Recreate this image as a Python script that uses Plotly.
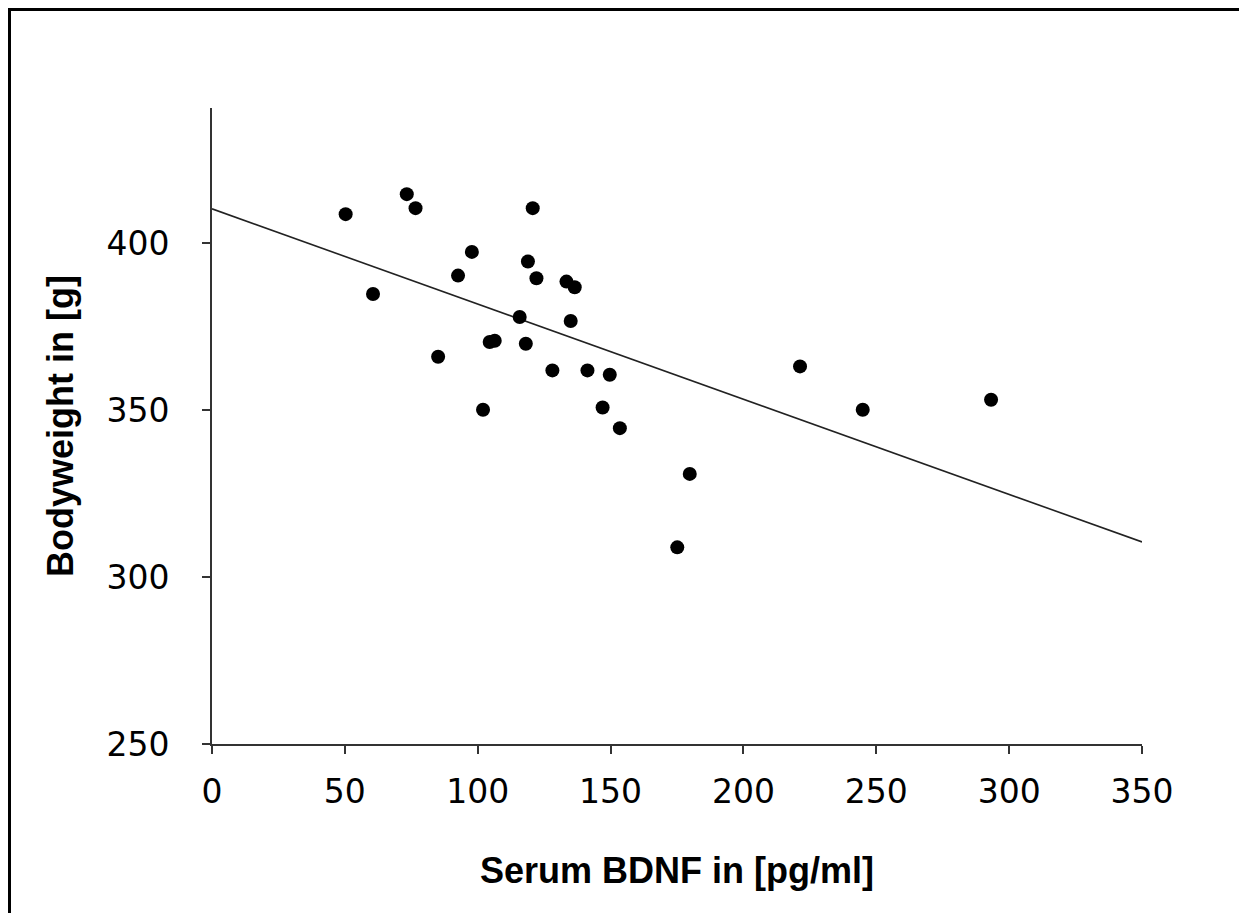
import plotly.graph_objects as go

# Data
bdnf = [50.3, 60.6, 73.3, 76.6, 85.1, 92.6, 97.8, 102.0, 104.5, 106.4,
        115.8, 118.1, 118.9, 120.7, 122.1, 128.1, 133.4, 135.0, 136.5, 141.3,
        147.0, 149.7, 153.5, 175.1, 179.8, 221.3, 244.9, 293.2]
bodyweight = [408.7, 384.8, 414.7, 410.5, 366.0, 390.3, 397.4, 350.1, 370.4, 370.8,
              377.9, 369.9, 394.5, 410.5, 389.5, 361.9, 388.5, 376.7, 386.8, 361.9,
              350.8, 360.6, 344.6, 308.9, 330.9, 363.1, 350.1, 353.1]
trend_intercept = 410.3
trend_slope = -0.2851
x_ticks = [0, 50, 100, 150, 200, 250, 300, 350]
y_ticks = [250, 300, 350, 400]
x_range = [0, 350]
y_range = [250, 440.5]

trend_x = list(x_range)
trend_y = [trend_intercept + trend_slope * v for v in trend_x]

fig = go.Figure()
fig.add_trace(go.Scatter(x=trend_x, y=trend_y, mode="lines",
                         line=dict(color="#222222", width=1.6),
                         showlegend=False, hoverinfo="skip"))
fig.add_trace(go.Scatter(x=bdnf, y=bodyweight, mode="markers",
                         marker=dict(color="black", size=14, line=dict(width=0)),
                         showlegend=False, cliponaxis=False))

# page has an 8px body margin; figure sized to fit the window
W, H = 1231, 905
ml, mr, mt, mb = 204, 97, 100, 169
pw, ph = W - ml - mr, H - mt - mb

def px_x(p):
    return (p - ml) / pw

def px_y(p):
    return (H - mb - p) / ph

title_font = "Liberation Sans, Arial, sans-serif"

fig.update_layout(
    width=W, height=H,
    margin=dict(l=ml, r=mr, t=mt, b=mb, autoexpand=False),
    paper_bgcolor="white", plot_bgcolor="white",
    font=dict(family="DejaVu Sans, sans-serif", color="black"),
    xaxis=dict(range=x_range, tickvals=x_ticks, showgrid=False, zeroline=False,
               showline=True, linecolor="#333333", linewidth=2,
               ticks="outside", ticklen=8, tickwidth=2, tickcolor="#333333",
               ticklabelstandoff=9,
               tickfont=dict(size=33, color="black"),
               title=dict(text="<b>Serum BDNF in [pg/ml]</b>", standoff=48,
                          font=dict(family=title_font, size=36, color="black"))),
    yaxis=dict(range=y_range, tickvals=y_ticks, showgrid=False, zeroline=False,
               showline=True, linecolor="#333333", linewidth=2,
               ticks="outside", ticklen=8, tickwidth=2, tickcolor="#333333",
               ticklabelstandoff=26,
               tickfont=dict(size=33, color="black"),
               title=dict(text="<b>Bodyweight in [g]</b>", standoff=22,
                          font=dict(family=title_font, size=36, color="black"))),
    shapes=[
        dict(type="line", xref="paper", yref="paper",
             x0=px_x(0), x1=px_x(W + 5), y0=px_y(1.5), y1=px_y(1.5),
             line=dict(color="black", width=3)),
        dict(type="line", xref="paper", yref="paper",
             x0=px_x(1.5), x1=px_x(1.5), y0=px_y(0), y1=px_y(H + 5),
             line=dict(color="black", width=3)),
    ],
)

fig.write_html("out.html")
